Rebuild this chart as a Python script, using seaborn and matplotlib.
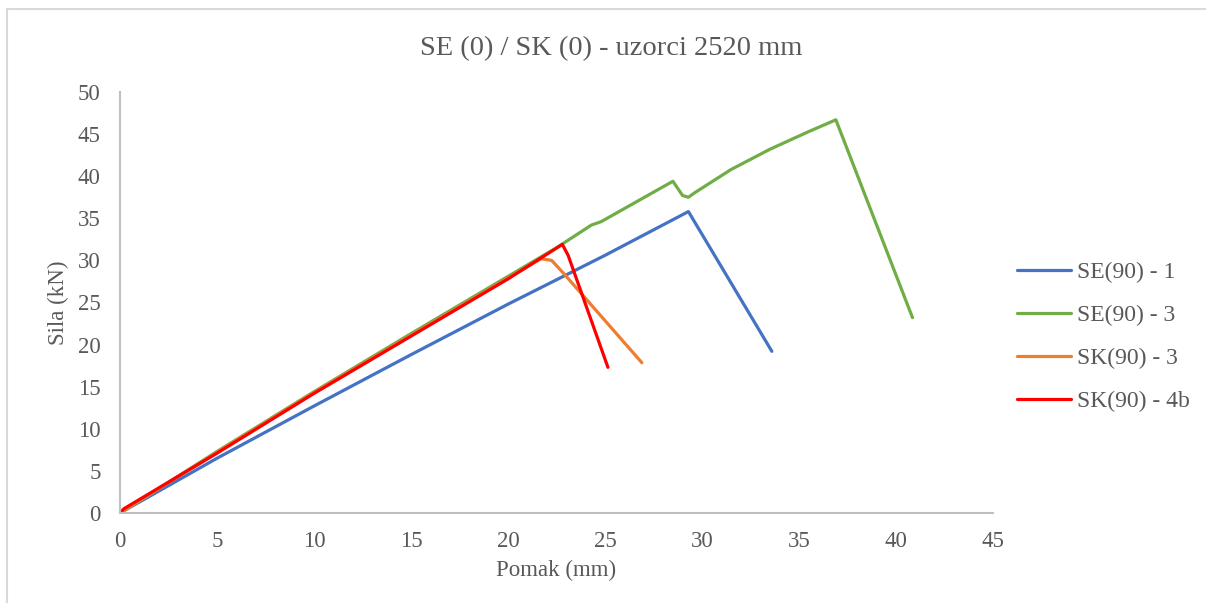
import pandas as pd
import matplotlib.pyplot as plt
import seaborn as sns
from matplotlib.patches import Rectangle

# Values
se1_x = [0, 5, 10, 15, 20, 25, 29.3, 33.6]
se1_y = [0, 6.5, 12.7, 18.8, 24.8, 30.6, 35.8, 19.2]

se3_x = [0, 5, 10, 15, 20, 22.5, 24.3, 24.8, 28.5, 29.0, 29.3, 29.6, 31.5, 33.5, 35.5, 36.9, 40.85]
se3_y = [0, 7.3, 14.4, 21.3, 28.1, 31.5, 34.2, 34.6, 39.4, 37.7, 37.5, 38.0, 40.8, 43.2, 45.3, 46.7, 23.2]

sk3_x = [0, 5, 10, 15, 20, 21.7, 22.25, 22.85, 26.9]
sk3_y = [0, 7.2, 14.3, 21.1, 27.9, 30.2, 30.0, 28.5, 17.85]

sk4_x = [0, 0.2, 5, 10, 15, 20, 22.8, 23.1, 25.15]
sk4_y = [0, 0.5, 7.1, 14.2, 21.0, 27.8, 31.9, 30.6, 17.3]

labels = ["SE(90) - 1", "SE(90) - 3", "SK(90) - 3", "SK(90) - 4b"]
colors = ["#4472C4", "#70AD47", "#ED7D31", "#FF0000"]

series = [(se1_x, se1_y), (se3_x, se3_y), (sk3_x, sk3_y), (sk4_x, sk4_y)]

sns.set_style("white")
plt.rcParams['font.family'] = ['Liberation Serif', 'DejaVu Serif']
text_col = "#595959"

fig = plt.figure(figsize=(12.06, 6.03), dpi=100)
ax = fig.add_axes([0.0995, 0.1493, 0.7239, 0.6981])

for (xs, ys), lab, col in zip(series, labels, colors):
    df = pd.DataFrame({"x": xs, "y": ys})
    sns.lineplot(data=df, x="x", y="y", sort=False, estimator=None, ax=ax,
                 color=col, linewidth=2.3, label=lab, solid_capstyle='round',
                 solid_joinstyle='round')

ax.set_xlim(0, 45)
ax.set_ylim(0, 50)
ax.set_xticks(range(0, 46, 5))
ax.set_yticks(range(0, 51, 5))
ax.tick_params(axis='both', labelsize=16.5, colors=text_col, length=0)
ax.tick_params(axis='x', pad=13)
ax.tick_params(axis='y', pad=14)

for s in ['top', 'right']:
    ax.spines[s].set_visible(False)
for s in ['left', 'bottom']:
    ax.spines[s].set_color('#BFBFBF')
    ax.spines[s].set_linewidth(1.5)

ax.set_xlabel("Pomak (mm)", fontsize=16.5, color=text_col, labelpad=6)
ax.set_ylabel("Sila (kN)", fontsize=16.5, color=text_col, labelpad=6)
fig.text(0.507, 0.92, "SE (0) / SK (0) - uzorci 2520 mm", fontsize=20.5,
         color=text_col, ha='center', va='center')

leg = ax.legend(loc='center left', bbox_to_anchor=(0.8257, 0.4415),
                bbox_transform=fig.transFigure, frameon=False, fontsize=17,
                handlelength=2.3, labelspacing=0.91, handletextpad=0.25)
for t in leg.get_texts():
    t.set_color(text_col)

# outer chart frame
fig.patches.append(Rectangle((7 / 1206, -0.1), 1.2, 1.1 - 9 / 603, transform=fig.transFigure,
                             fill=False, edgecolor='#D9D9D9', linewidth=1.5))

fig.savefig("out.png", dpi=100)
